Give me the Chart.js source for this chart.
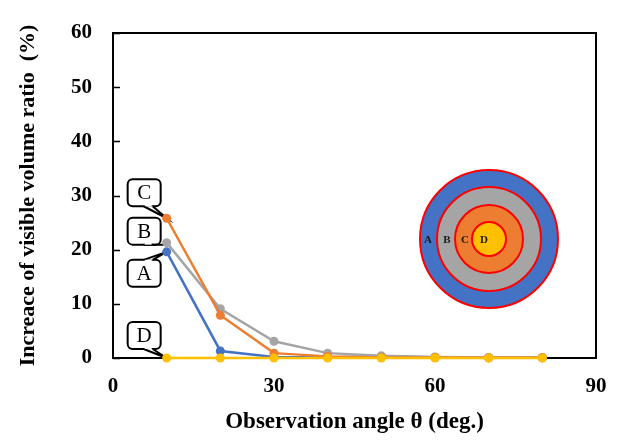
<!DOCTYPE html>
<html>
<head>
<meta charset="utf-8">
<script src="https://cdn.jsdelivr.net/npm/chart.js@4/dist/chart.umd.min.js"></script>
<style>
  html, body { margin: 0; padding: 0; background: #fff; }
  #wrap { width: 618px; height: 440px; }
</style>
</head>
<body>
<div id="wrap"><canvas id="chart" width="618" height="440"></canvas></div>
<script>
// angles (deg.)
const angles = [10, 20, 30, 40, 50, 60, 70, 80];
// increase of visible volume ratio (%) for each region
const seriesA = [19.6, 1.3, 0.2, 0.1, 0.3, 0.1, 0.05, 0.05];
const seriesB = [21.3, 9.1, 3.1, 0.9, 0.4, 0.2, 0.1, 0.1];
const seriesC = [25.8, 7.9, 0.9, 0.3, 0.1, 0.1, 0.05, 0.05];
const seriesD = [0, 0, 0, 0, 0, 0, 0, 0];
const seriesNames = ["A", "B", "C", "D"];
const xTicks = [0, 30, 60, 90];
const yTicks = [0, 10, 20, 30, 40, 50, 60];

const serif = "'Liberation Serif', 'Times New Roman', serif";

function pts(ys) {
  return angles.map((x, i) => ({ x: x, y: ys[i] }));
}

function makeSet(label, ys, color, order) {
  return {
    label: label,
    data: pts(ys),
    borderColor: color,
    backgroundColor: color,
    borderWidth: 2.5,
    pointRadius: 4.5,
    pointBorderWidth: 0,
    pointHoverRadius: 4.5,
    tension: 0,
    clip: false,
    order: order,
  };
}

// frame + inward y ticks
const framePlugin = {
  id: "frame",
  beforeDatasetsDraw(chart) {
    const { ctx, chartArea: a, scales } = chart;
    ctx.save();
    ctx.strokeStyle = "#000";
    ctx.lineWidth = 2;
    ctx.strokeRect(a.left, a.top, a.right - a.left, a.bottom - a.top);
    ctx.beginPath();
    yTicks.forEach((v) => {
      const y = Math.round(scales.y.getPixelForValue(v)) + 0.5;
      ctx.moveTo(a.left, y);
      ctx.lineTo(a.left + 7, y);
    });
    ctx.lineWidth = 1.5;
    ctx.stroke();
    ctx.restore();
  },
};

// speech-bubble labels pointing at the first point of each series
const calloutPlugin = {
  id: "callouts",
  beforeDatasetsDraw(chart) {
    const { ctx, scales } = chart;
    const boxes = [
      { name: "C", ys: seriesC, dx: -39, dy: -39, tipDy: 0, edge: "bottom" },
      { name: "B", ys: seriesB, dx: -39, dy: -27, tipDy: 2, edge: "bottom" },
      { name: "A", ys: seriesA, dx: -39, dy: 8, tipDy: 0, edge: "top" },
      { name: "D", ys: seriesD, dx: -39, dy: -36, tipDy: 0, edge: "bottom" },
    ];
    const w = 33, h = 27, r = 5;
    ctx.save();
    boxes.forEach((b) => {
      const px = scales.x.getPixelForValue(angles[0]);
      const py = scales.y.getPixelForValue(b.ys[0]) + b.tipDy;
      const x0 = px + b.dx, y0 = py + b.dy;
      ctx.lineWidth = 2;
      ctx.strokeStyle = "#000";
      ctx.fillStyle = "#fff";
      ctx.beginPath();
      ctx.roundRect(x0, y0, w, h, r);
      ctx.fill();
      ctx.stroke();
      // tail
      const ey = b.edge === "bottom" ? y0 + h : y0;
      const t1 = x0 + w - 17, t2 = x0 + w - 8;
      ctx.beginPath();
      ctx.moveTo(t1, ey);
      ctx.lineTo(px, py);
      ctx.lineTo(t2, ey);
      ctx.closePath();
      ctx.fill();
      ctx.beginPath();
      ctx.moveTo(t1, ey);
      ctx.lineTo(px, py);
      ctx.lineTo(t2, ey);
      ctx.stroke();
      ctx.fillStyle = "#fff";
      ctx.fillRect(t1 + 1, ey - (b.edge === "bottom" ? 2 : 0), t2 - t1 - 2, 2);
      ctx.fillStyle = "#000";
      ctx.font = "21px " + serif;
      ctx.textAlign = "center";
      ctx.textBaseline = "middle";
      ctx.fillText(b.name, x0 + w / 2, y0 + h / 2 + 1);
    });
    ctx.restore();
  },
};

// concentric region sketch
const targetPlugin = {
  id: "target",
  afterDraw(chart) {
    const { ctx, chartArea: a } = chart;
    const cx = a.left + 376, cy = a.top + 206;
    const rings = [
      { r: 69, c: "#4472C4" },
      { r: 52, c: "#A5A5A5" },
      { r: 34, c: "#ED7D31" },
      { r: 17, c: "#FFC000" },
    ];
    ctx.save();
    rings.forEach((g) => {
      ctx.beginPath();
      ctx.arc(cx, cy, g.r, 0, Math.PI * 2);
      ctx.fillStyle = g.c;
      ctx.fill();
      ctx.lineWidth = 2;
      ctx.strokeStyle = "#FF0000";
      ctx.stroke();
    });
    ctx.fillStyle = "#1a1a1a";
    ctx.font = "bold 11px " + serif;
    ctx.textAlign = "center";
    ctx.textBaseline = "middle";
    const lx = [cx - 61, cx - 42, cx - 24, cx - 5];
    seriesNames.forEach((n, i) => ctx.fillText(n, lx[i], cy + 1));
    ctx.restore();
  },
};

new Chart(document.getElementById("chart"), {
  type: "line",
  data: {
    datasets: [
      makeSet("A", seriesA, "#4472C4", 3),
      makeSet("B", seriesB, "#A5A5A5", 2),
      makeSet("C", seriesC, "#ED7D31", 1),
      makeSet("D", seriesD, "#FFC000", 0),
    ],
  },
  options: {
    responsive: false,
    animation: false,
    events: [],
    layout: { padding: { top: 33, right: 22, left: 0, bottom: 0 } },
    plugins: {
      legend: { display: false },
      tooltip: { enabled: false },
    },
    scales: {
      x: {
        type: "linear",
        min: 0,
        max: 90,
        afterBuildTicks: (s) => { s.ticks = xTicks.map((v) => ({ value: v })); },
        afterFit: (s) => { s.height = 82; s.paddingLeft = 0; s.paddingRight = 0; },
        grid: { display: false, drawTicks: false },
        border: { display: false },
        ticks: {
          padding: 16,
          color: "#000",
          font: { family: serif, size: 21, weight: "bold" },
          maxRotation: 0,
        },
        title: {
          display: true,
          text: "Observation angle θ (deg.)",
          color: "#000",
          font: { family: serif, size: 23, weight: "bold" },
          padding: { top: 5 },
        },
      },
      y: {
        min: 0,
        max: 60,
        afterBuildTicks: (s) => { s.ticks = yTicks.map((v) => ({ value: v })); },
        afterFit: (s) => { s.width = 113; s.paddingTop = 0; s.paddingBottom = 0; },
        grid: { display: false, drawTicks: false },
        border: { display: false },
        ticks: {
          padding: 21,
          color: "#000",
          font: { family: serif, size: 21, weight: "bold" },
        },
        title: {
          display: true,
          text: "Increace of visible volume ratio  (%)",
          color: "#000",
          font: { family: serif, size: 22, weight: "bold" },
          padding: { top: 15, bottom: 0 },
        },
      },
    },
  },
  plugins: [framePlugin, calloutPlugin, targetPlugin],
});
</script>
</body>
</html>
